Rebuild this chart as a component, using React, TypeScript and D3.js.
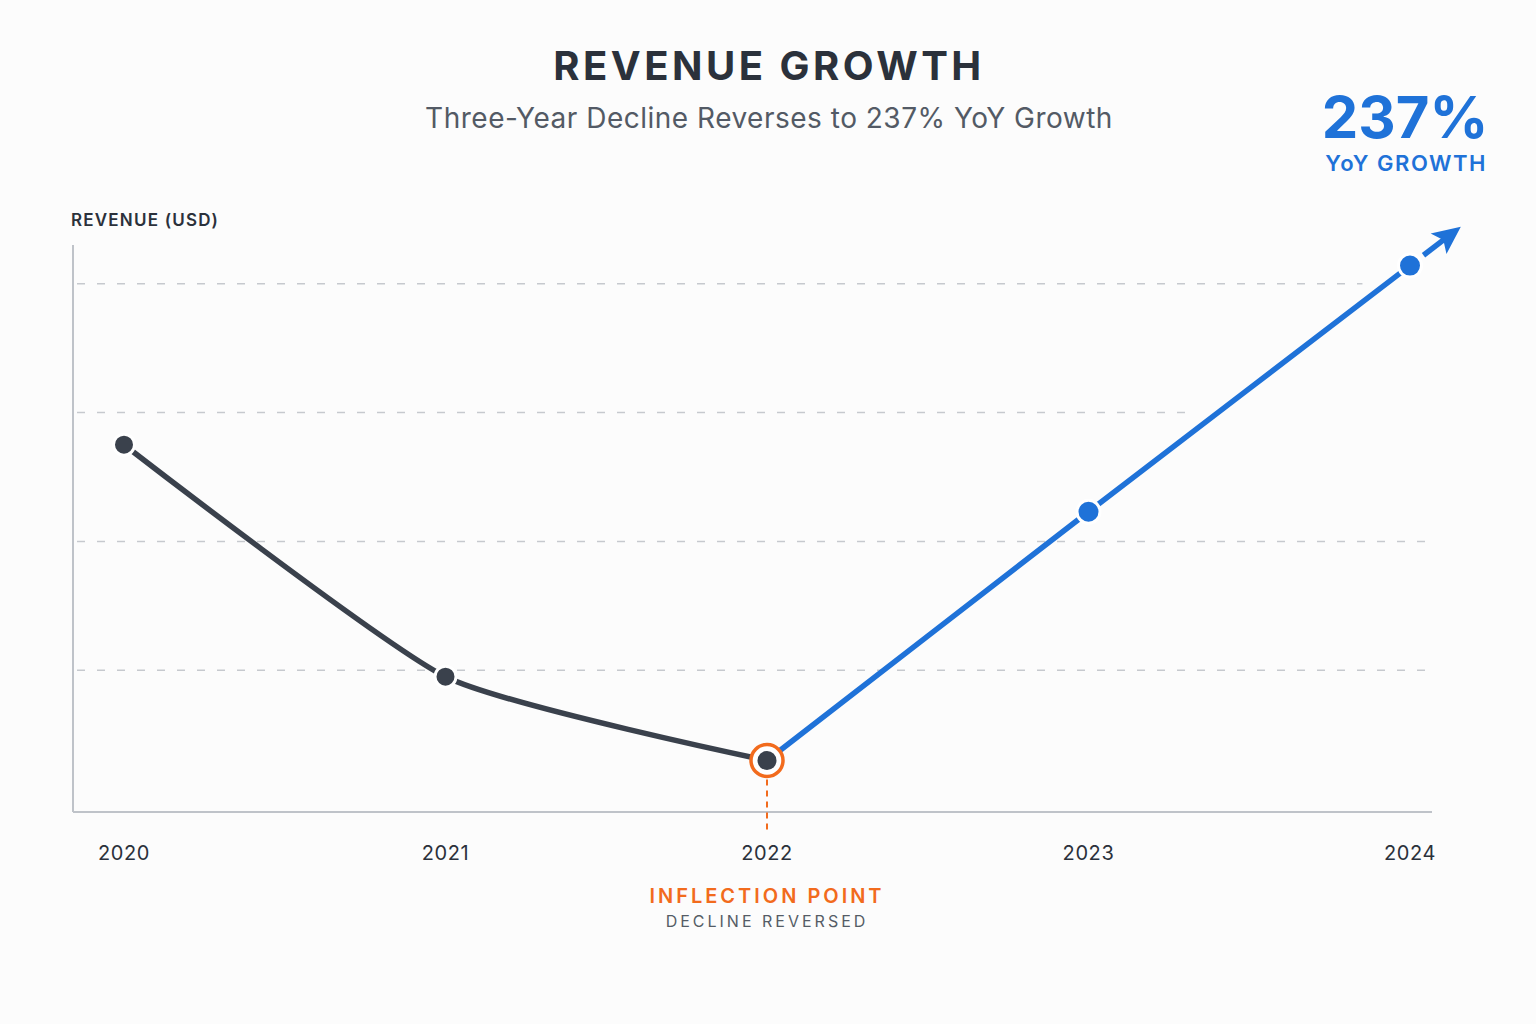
import React from "react";
import * as d3 from "d3";

// Annual revenue, $M
const years = [2020, 2021, 2022, 2023, 2024];
const revenue = [27.5, 9.5, 3.0, 22.3, 41.4];
const gridValues = [10, 20, 30, 40];
const inflectionYear = 2022;

const titleText = "REVENUE GROWTH";
const subtitleText = "Three-Year Decline Reverses to 237% YoY Growth";
const growthLabel = "237%";
const growthSub = "YoY GROWTH";
const yAxisLabel = "REVENUE (USD)";

const W = 1536;
const H = 1024;
const FONT = "Inter, 'Noto Sans', sans-serif";
const DARK = "#3a414c";
const BLUE = "#1f72d8";
const ORANGE = "#f26b1d";
const AXIS = "#bfc3c9";
const GRID = "#c6c9ce";

export default function App() {
  const plot = { left: 73, right: 1432, top: 245, bottom: 812 };

  const x = d3.scaleLinear().domain([2020, 2024]).range([124, 1410]);
  const y = d3.scaleLinear().domain([-1, 43]).range([plot.bottom, plot.top]);

  const pts = years.map((yr, i) => ({ year: yr, value: revenue[i] }));
  const inflIdx = years.indexOf(inflectionYear);
  const decline = pts.slice(0, inflIdx + 1);
  const growth = pts.slice(inflIdx);

  const line = d3
    .line<{ year: number; value: number }>()
    .x((d) => x(d.year))
    .y((d) => y(d.value))
    .curve(d3.curveCardinal.tension(0.45));

  // arrow continues the last segment past the final point
  const a = pts[pts.length - 2];
  const b = pts[pts.length - 1];
  const dx = x(b.year) - x(a.year);
  const dy = y(b.value) - y(a.value);
  const len = Math.hypot(dx, dy);
  const ux = dx / len;
  const uy = dy / len;
  const ax0 = x(b.year) + ux * 17;
  const ay0 = y(b.value) + uy * 17;
  const ax1 = x(b.year) + ux * 48;
  const ay1 = y(b.value) + uy * 48;
  const angle = (Math.atan2(uy, ux) * 180) / Math.PI;

  // gridlines above the last-but-one point stop short of the rising line
  const gridEnd = (g: number) => {
    if (g > a.value && g < b.value) {
      const t = (g - a.value) / (b.value - a.value);
      return x(a.year) + t * (x(b.year) - x(a.year)) - 24;
    }
    return plot.right - 2;
  };

  const ix = x(inflectionYear);
  const iy = y(revenue[inflIdx]);

  return (
    <svg
      width={W}
      height={H}
      style={{ position: "absolute", left: 0, top: 0, background: "#fcfcfc" }}
      fontFamily={FONT}
    >
      <text x={769} y={80} textAnchor="middle" fontSize={40} fontWeight={700} letterSpacing={3.5} fill="#2b313b">
        {titleText}
      </text>
      <text x={769} y={128} textAnchor="middle" fontSize={28} fill="#535a65" letterSpacing={0.5}>
        {subtitleText}
      </text>

      <text x={1405} y={138} textAnchor="middle" fontSize={58} fontWeight={700} fill={BLUE}>
        {growthLabel}
      </text>
      <text x={1406} y={171} textAnchor="middle" fontSize={22} fontWeight={600} letterSpacing={1.5} fill={BLUE}>
        {growthSub}
      </text>

      <text x={71} y={226} fontSize={17} fontWeight={600} letterSpacing={1.2} fill="#2b313b">
        {yAxisLabel}
      </text>

      {/* gridlines */}
      {gridValues.map((g) => (
        <line
          key={g}
          x1={plot.left + 4}
          x2={gridEnd(g)}
          y1={y(g)}
          y2={y(g)}
          stroke={GRID}
          strokeWidth={1.5}
          strokeDasharray="8 12"
        />
      ))}

      {/* axes */}
      <line x1={plot.left} x2={plot.left} y1={plot.top} y2={plot.bottom} stroke={AXIS} strokeWidth={2} />
      <line x1={plot.left} x2={plot.right} y1={plot.bottom} y2={plot.bottom} stroke={AXIS} strokeWidth={2} />

      {years.map((yr) => (
        <text key={yr} x={x(yr)} y={860} textAnchor="middle" fontSize={20} fill="#2b313b" letterSpacing={0.6}>
          {yr}
        </text>
      ))}

      {/* inflection guide */}
      <line x1={ix} x2={ix} y1={iy + 19} y2={plot.bottom + 20} stroke={ORANGE} strokeWidth={2} strokeDasharray="6 5" />
      <text x={ix} y={903} textAnchor="middle" fontSize={20} fontWeight={600} letterSpacing={3} fill={ORANGE}>
        INFLECTION POINT
      </text>
      <text x={ix} y={927} textAnchor="middle" fontSize={16} letterSpacing={3} fill="#555c66">
        DECLINE REVERSED
      </text>

      {/* series */}
      <path d={line(decline) || ""} fill="none" stroke={DARK} strokeWidth={5.5} strokeLinecap="round" />
      <path d={line(growth) || ""} fill="none" stroke={BLUE} strokeWidth={5.5} strokeLinecap="round" />

      <line x1={ax0} y1={ay0} x2={ax1} y2={ay1} stroke={BLUE} strokeWidth={5.5} />
      <g transform={`translate(${ax1},${ay1}) rotate(${angle})`}>
        <path d="M16,0 L-12,-13 L-6,0 L-12,13 Z" fill={BLUE} />
      </g>

      {pts.map((p) => {
        if (p.year === inflectionYear) return null;
        const isGrowth = p.year > inflectionYear;
        return (
          <circle
            key={p.year}
            cx={x(p.year)}
            cy={y(p.value)}
            r={isGrowth ? 11.5 : 10.5}
            fill={isGrowth ? BLUE : DARK}
            stroke="#ffffff"
            strokeWidth={3}
          />
        );
      })}

      {/* inflection marker */}
      <circle cx={ix} cy={iy} r={16} fill="#ffffff" stroke={ORANGE} strokeWidth={3.5} />
      <circle cx={ix} cy={iy} r={9.5} fill={DARK} />
    </svg>
  );
}
